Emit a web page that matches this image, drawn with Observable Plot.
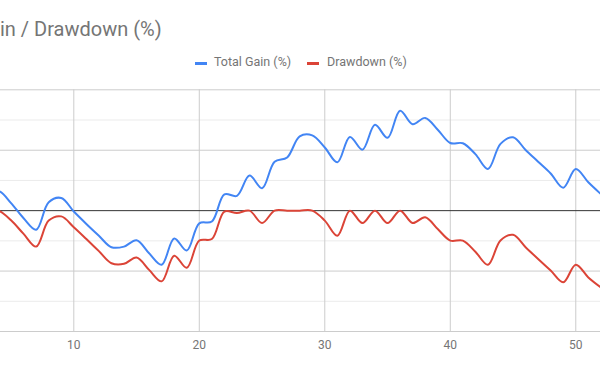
<!DOCTYPE html>
<html>
<head>
<meta charset="utf-8">
<script src="https://cdn.jsdelivr.net/npm/d3@7"></script>
<script src="https://cdn.jsdelivr.net/npm/@observablehq/plot@0.6"></script>
<style>
  html, body { margin: 0; padding: 0; background: #fff; }
  #wrap { position: relative; width: 600px; height: 371px; overflow: hidden; font-family: Roboto, sans-serif; }
  .title { position: absolute; left: 0; top: 19px; font-size: 20px; line-height: 20px; color: #757575; white-space: nowrap; }
  .leg { position: absolute; top: 56px; font-size: 12.5px; line-height: 12.5px; color: #757575; white-space: nowrap; }
  .sw { position: absolute; top: 62px; width: 12px; height: 3px; }
  #chart { position: absolute; left: 0; top: 80px; }
</style>
</head>
<body>
<div id="wrap">
  <div class="title">in / Drawdown (%)</div>
  <div class="sw" style="left:195px;background:#4285f4"></div>
  <div class="leg" style="left:214px">Total Gain (%)</div>
  <div class="sw" style="left:307px;background:#db4437"></div>
  <div class="leg" style="left:327px">Drawdown (%)</div>
  <div id="chart"></div>
</div>
<script>
const seriesNames = ["Total Gain (%)", "Drawdown (%)"];
const seriesColors = ["#4285f4", "#db4437"];
const xs = [1,2,3,4,5,6,7,8,9,10,11,12,13,14,15,16,17,18,19,20,21,22,23,24,25,26,27,28,29,30,31,32,33,34,35,36,37,38,39,40,41,42,43,44,45,46,47,48,49,50,51,52];
const totalGain = [0,1.5,2.5,3.25,1.25,-1.25,-3.15,1.4,2.1,-0.15,-2.2,-4.15,-6.05,-5.95,-4.9,-7.05,-8.95,-4.6,-6.6,-2.1,-1.8,2.7,2.45,5.8,3.7,8.1,8.8,12.3,12.45,10.45,8.0,12.2,10.1,14.2,12.05,16.55,14.3,15.35,13.4,11.2,11.15,9.35,6.9,11.05,12.15,10.05,8.1,6.15,3.8,6.9,4.7,2.75];
const drawdown = [0,0,0,0,-1.6,-3.85,-5.95,-1.65,-0.95,-2.75,-4.7,-6.7,-8.7,-8.8,-7.75,-9.8,-11.7,-7.45,-9.45,-4.95,-4.7,-0.15,-0.4,0,-2.05,0,0,0,0,-1.65,-4.15,0,-2.05,0,-2.05,0,-2.05,-1.1,-3.05,-4.95,-4.95,-6.8,-8.95,-4.95,-4.0,-6.05,-8.0,-9.9,-11.85,-8.95,-11.05,-12.7];
const xTicks = [10, 20, 30, 40, 50];
const majorY = [-20, -10, 10, 20];
const minorY = [-15, -5, 5, 15];

const gainData = xs.map((x, i) => ({x, y: totalGain[i]}));
const ddData = xs.map((x, i) => ({x, y: drawdown[i]}));

const chart = Plot.plot({
  width: 600,
  height: 291,
  marginLeft: 0,
  marginRight: 0,
  marginTop: 9.3,
  marginBottom: 40,
  style: { fontFamily: "Roboto, sans-serif", fontSize: "12px", background: "transparent" },
  x: { domain: [4.159, 51.97] },
  y: { domain: [-20, 20] },
  marks: [
    Plot.ruleY(minorY, { stroke: "#ebebeb", strokeWidth: 1 }),
    Plot.ruleY(majorY, { stroke: "#cccccc", strokeWidth: 1 }),
    Plot.ruleX(xTicks, { stroke: "#cccccc", strokeWidth: 1 }),
    Plot.ruleY([0], { stroke: "#333333", strokeWidth: 1 }),
    Plot.axisX(xTicks, { tickSize: 0, tickPadding: 9, fill: "#757575", fontSize: 12, label: null }),
    Plot.axisY([], { label: null }),
    Plot.line(gainData, { x: "x", y: "y", stroke: seriesColors[0], strokeWidth: 2, curve: "catmull-rom", clip: true }),
    Plot.line(ddData, { x: "x", y: "y", stroke: seriesColors[1], strokeWidth: 2, curve: "catmull-rom", clip: true })
  ]
});
document.getElementById("chart").appendChild(chart);
</script>
</body>
</html>
